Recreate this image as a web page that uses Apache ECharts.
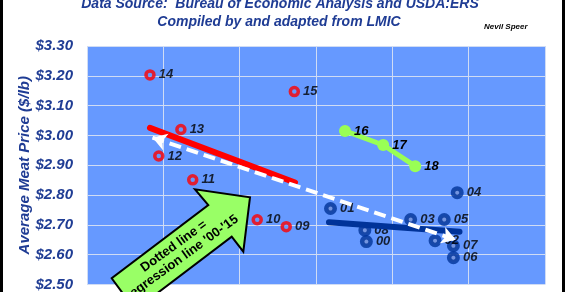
<!DOCTYPE html>
<html><head><meta charset="utf-8">
<script src="https://cdn.jsdelivr.net/npm/echarts@6/dist/echarts.min.js"></script>
<style>html,body{margin:0;padding:0;background:#fff}#c{width:565px;height:292px}</style>
</head><body><div id="c"></div>
<script>
// ---- data ----
const yMin = 2.5, yMax = 3.3, yStep = 0.1;
const xMin = 0, xMax = 6, xStep = 1;

const redYears = ['09','10','11','12','13','14','15'];
const redX = [2.61, 2.23, 1.385, 0.94, 1.23, 0.825, 2.716];
const redY = [2.694, 2.717, 2.851, 2.931, 3.020, 3.203, 3.147];

const greenYears = ['16','17','18'];
const greenX = [3.38, 3.88, 4.30];
const greenY = [3.015, 2.968, 2.897];

const blueYears = ['00','01','02','03','04','05','06','07','08'];
const blueX = [3.66, 3.19, 4.56, 4.24, 4.85, 4.68, 4.80, 4.80, 3.64];
const blueY = [2.644, 2.755, 2.647, 2.718, 2.808, 2.718, 2.590, 2.630, 2.682];

const redFitX = [0.825, 2.725];
const redFitY = [3.0255, 2.842];
const blueFitX = [3.17, 4.88];
const blueFitY = [2.709, 2.677];
const allFitX = [0.858, 4.83];
const allFitY = [2.993, 2.650];

const titleLine1 = 'Data Source:  Bureau of Economic Analysis and USDA:ERS';
const titleLine2 = 'Compiled by and adapted from LMIC';
const author = 'Nevil Speer';
const yAxisName = 'Average Meat Price ($/lb)';
const calloutText = 'Dotted line =\nregression line \'00-\'15';

// ---- build ----
const pts = (xs, ys, names) => xs.map((x, i) => ({value: [x, ys[i]], name: names ? names[i] : ''}));
const navy = '#1f3c94';
const FF = 'Liberation Sans, Arial';
const lbl = {show: true, position: 'right', distance: 3, formatter: '{b}', color: '#000',
  fontSize: 13, fontWeight: 'bold', fontStyle: 'italic', fontFamily: FF};

const chart = echarts.init(document.getElementById('c'), null, {renderer: 'canvas'});
chart.setOption({
  animation: false,
  backgroundColor: '#fff',
  title: [
    {text: titleLine1, left: 275, textAlign: 'center', top: -8, textStyle: {color: navy, fontSize: 14, fontWeight: 'bold', fontStyle: 'italic', fontFamily: FF}},
    {text: titleLine2, left: 274, textAlign: 'center', top: 10, textStyle: {color: navy, fontSize: 14, fontWeight: 'bold', fontStyle: 'italic', fontFamily: FF}},
    {text: author, left: 479, top: 18, textStyle: {color: '#000', fontSize: 8, fontWeight: 'bold', fontStyle: 'italic', fontFamily: FF}}
  ],
  grid: {left: 87, right: 20, top: 46, bottom: 1, show: true, backgroundColor: '#6699ff', borderWidth: 0},
  xAxis: {type: 'value', min: xMin, max: xMax, interval: xStep,
    axisLine: {show: false}, axisTick: {show: false}, axisLabel: {show: false},
    splitLine: {show: true, lineStyle: {color: '#d0dcf4', width: 1}}},
  yAxis: {type: 'value', min: yMin, max: yMax, interval: yStep,
    name: yAxisName, nameLocation: 'middle', nameGap: 55, nameMoveOverlap: false,
    nameTextStyle: {color: navy, fontSize: 15, fontWeight: 'bold', fontStyle: 'italic', fontFamily: FF},
    axisLine: {show: false}, axisTick: {show: false},
    axisLabel: {margin: 14, color: navy, fontSize: 15, fontWeight: 'bold', fontStyle: 'italic', fontFamily: FF,
      formatter: v => '$' + v.toFixed(2)},
    splitLine: {show: true, lineStyle: {color: '#d0dcf4', width: 1}}},
  series: [
    {type: 'line', data: redFitX.map((x, i) => [x, redFitY[i]]), symbol: 'none', lineStyle: {color: '#ff0000', width: 6, cap: 'round'}, z: 2},
    {type: 'line', data: blueFitX.map((x, i) => [x, blueFitY[i]]), symbol: 'none', lineStyle: {color: '#003399', width: 6, cap: 'round'}, z: 4},
    {type: 'line', data: pts(greenX, greenY, greenYears), symbol: 'circle', symbolSize: 12,
      itemStyle: {color: '#99ff55'}, lineStyle: {color: '#99ff55', width: 5}, label: lbl, z: 3},
    {type: 'scatter', data: pts(redX, redY, redYears), symbol: 'circle', symbolSize: 8,
      itemStyle: {color: '#6699ff', borderColor: '#ff0000', borderWidth: 3.5}, label: lbl, z: 3},
    {type: 'scatter', data: pts(blueX, blueY, blueYears), symbol: 'circle', symbolSize: 8.5,
      itemStyle: {color: '#7894d8', borderColor: '#003399', borderWidth: 4.5}, label: lbl, z: 3},
    {type: 'line', data: [], z: 6,
      markLine: {silent: true, symbol: ['arrow', 'arrow'], symbolSize: [13, 14], label: {show: false},
        lineStyle: {color: '#fff', width: 4, type: [12, 6]},
        data: [[{coord: [allFitX[0], allFitY[0]]}, {coord: [allFitX[1], allFitY[1]]}]]}}
  ]
});

chart.setOption({
  graphic: [
    {type: 'rect', shape: {x: 0, y: 0, width: 3, height: 292}, style: {fill: '#000'}},
    {type: 'rect', shape: {x: 562, y: 0, width: 3, height: 292}, style: {fill: '#000'}},
    {type: 'polygon', z: 20, shape: {points: [[250, 197.3], [243.3, 251.7], [231.7, 236.7], [135.1, 310], [111.7, 278.3], [208.3, 205], [195, 189.3]]},
      style: {fill: '#99ff66', stroke: '#000', lineWidth: 2}},
    {type: 'text', z: 21, x: 178, y: 252, rotation: 36 * Math.PI / 180,
      style: {text: calloutText, align: 'center', verticalAlign: 'middle', fill: '#000', font: 'bold 13px "Liberation Sans", Arial', lineHeight: 14}}
  ]
});
</script></body></html>
